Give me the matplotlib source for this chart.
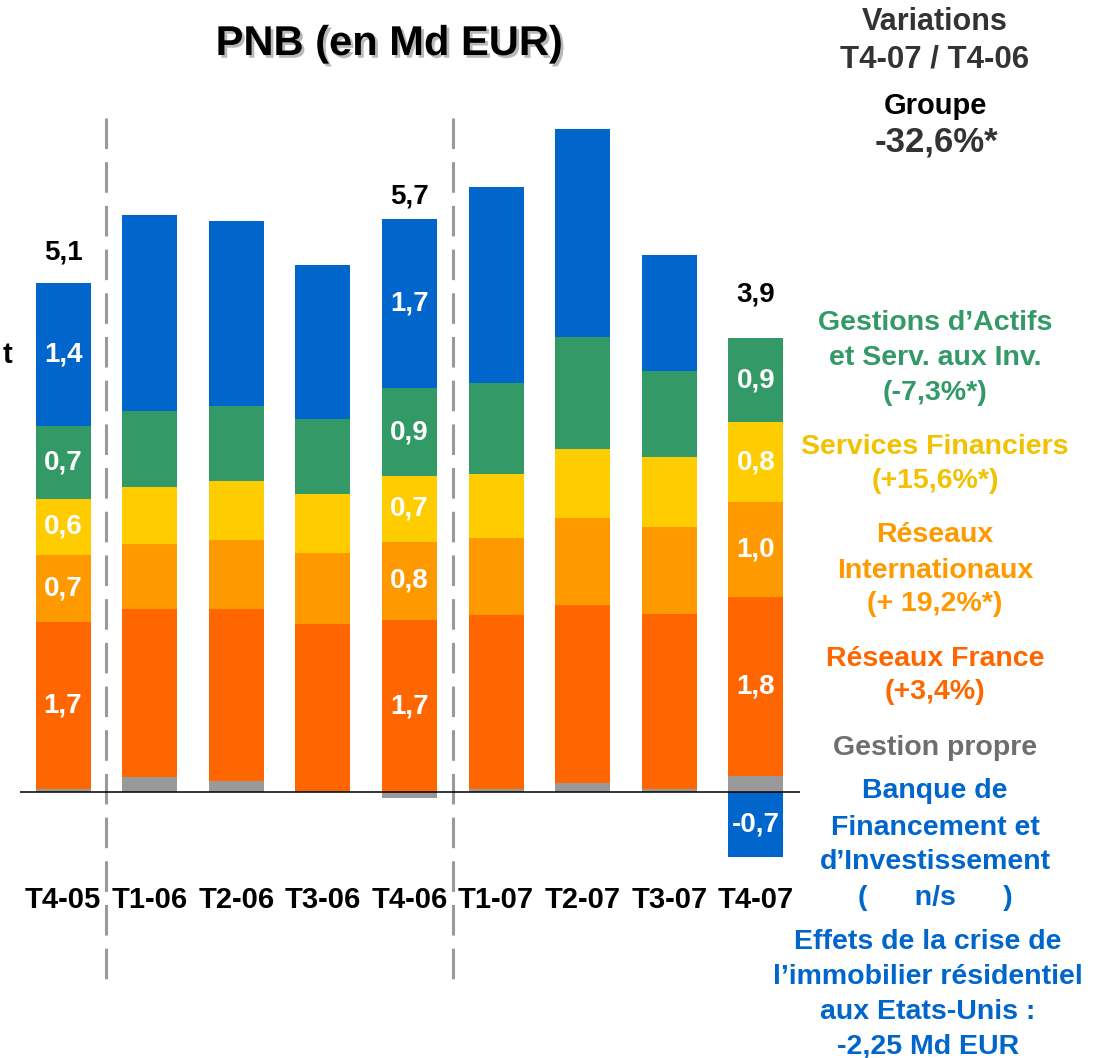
import matplotlib
matplotlib.use("Agg")
import matplotlib.pyplot as plt
import matplotlib.patheffects as pe
import numpy as np

plt.rcParams['font.family'] = ['Liberation Sans', 'DejaVu Sans']
plt.rcParams['font.weight'] = 'bold'

# ---------------- data ----------------
categories = ['T4-05', 'T1-06', 'T2-06', 'T3-06', 'T4-06', 'T1-07', 'T2-07', 'T3-07', 'T4-07']
gestion_propre = [0.03, 0.15, 0.11, 0.01, -0.06, 0.03, 0.09, 0.03, 0.16]
reseaux_france = [1.67, 1.68, 1.72, 1.67, 1.72, 1.74, 1.78, 1.75, 1.79]
reseaux_inter = [0.67, 0.65, 0.69, 0.71, 0.78, 0.77, 0.87, 0.87, 0.95]
services_fin = [0.56, 0.57, 0.59, 0.59, 0.66, 0.64, 0.69, 0.70, 0.80]
gestion_actifs = [0.73, 0.76, 0.75, 0.75, 0.88, 0.91, 1.12, 0.86, 0.84]
bfi = [1.43, 1.96, 1.85, 1.54, 1.69, 1.96, 2.08, 1.16, -0.65]

lbl_gp = [None] * 9
lbl_rf = ['1,7', None, None, None, '1,7', None, None, None, '1,8']
lbl_ri = ['0,7', None, None, None, '0,8', None, None, None, '1,0']
lbl_sf = ['0,6', None, None, None, '0,7', None, None, None, '0,8']
lbl_gas = ['0,7', None, None, None, '0,9', None, None, None, '0,9']
lbl_bfi = ['1,4', None, None, None, '1,7', None, None, None, '-0,7']
total_labels = ['5,1', None, None, None, '5,7', None, None, None, '3,9']

# ---------------- styling ----------------
W, H = 1097, 1058
fig = plt.figure(figsize=(W / 100, H / 100), dpi=100)
fig.patch.set_facecolor('white')

ax = fig.add_axes([20 / W, 0, 780 / W, 1])
ax.set_xlim(-0.497, 8.51)
ax.set_ylim(-2.66, 7.92)
ax.axis('off')

series = [
    (gestion_propre, '#999999', lbl_gp),
    (reseaux_france, '#FF6600', lbl_rf),
    (reseaux_inter, '#FF9900', lbl_ri),
    (services_fin, '#FFCC00', lbl_sf),
    (gestion_actifs, '#339966', lbl_gas),
    (bfi, '#0066CC', lbl_bfi),
]

x = np.arange(len(categories))
pos_bottom = np.zeros(len(categories))
neg_bottom = np.zeros(len(categories))
bw = 0.635
for vals, col, lbls in series:
    v = np.array(vals, dtype=float)
    bottom = np.where(v >= 0, pos_bottom, neg_bottom)
    ax.bar(x, v, bw, bottom=bottom, color=col, edgecolor='none', zorder=2)
    for i, (val, lb) in enumerate(zip(v, lbls)):
        if lb:
            ax.text(x[i], bottom[i] + val / 2, lb, ha='center', va='center',
                    color='white', fontsize=20, fontweight='bold', zorder=4)
    pos_bottom = pos_bottom + np.where(v >= 0, v, 0)
    neg_bottom = neg_bottom + np.where(v < 0, v, 0)

# totals above bars
total_offsets_px = [31, 0, 0, 0, 23, 0, 0, 0, 43]
for i, t in enumerate(total_labels):
    if t:
        ax.annotate(t, (x[i], pos_bottom[i]), xytext=(0, total_offsets_px[i] * 0.72),
                    textcoords='offset points', ha='center', va='center',
                    fontsize=20, fontweight='bold', color='black')

# baseline
ax.axhline(0, color='black', lw=1.1, zorder=3)

# dashed separators
for xs in (0.5, 4.5):
    ax.plot([xs, xs], [6.74, -1.93], color='#999999', lw=2.2,
            linestyle=(0, (10, 4.3)), zorder=1)

# category labels
for i, c in enumerate(categories):
    ax.text(x[i], -1.08, c, ha='center', va='center', fontsize=21,
            fontweight='bold', color='black')


def ft(px, py, s, **kw):
    fig.text(px / W, 1 - py / H, s, ha='center', va='center',
             fontweight='bold', **kw)


# title
ft(389, 44, 'PNB (en Md EUR)', fontsize=30, color='black',
   path_effects=[pe.withSimplePatchShadow(offset=(2, -2), shadow_rgbFace='#9a9a9a', alpha=0.7)])

# clipped letter at left edge
fig.text(12 / W, 1 - 355 / H, 't', ha='right', va='center', fontsize=21,
         fontweight='bold', color='black')

# right panel
ft(935, 22, 'Variations', fontsize=22, color='#333333')
ft(935, 60, 'T4-07 / T4-06', fontsize=22.5, color='#333333')
ft(935, 106, 'Groupe', fontsize=21, color='black')
ft(936, 142, '-32,6%*', fontsize=25, color='#333333')

green, yellow, orange, red, grey, blue = '#339966', '#F2C200', '#FF9900', '#FF6600', '#6E6E6E', '#0066CC'
rs = 20.5
ft(935, 323, 'Gestions d\u2019Actifs', fontsize=rs, color=green)
ft(935, 358, 'et Serv. aux Inv.', fontsize=rs, color=green)
ft(935, 393, '(-7,3%*)', fontsize=rs, color=green)
ft(935, 447, 'Services Financiers', fontsize=rs, color=yellow)
ft(935, 481, '(+15,6%*)', fontsize=rs, color=yellow)
ft(935, 535, 'R\u00e9seaux', fontsize=rs, color=orange)
ft(935, 571, 'Internationaux', fontsize=rs, color=orange)
ft(935, 604, '(+ 19,2%*)', fontsize=rs, color=orange)
ft(935, 659, 'R\u00e9seaux France', fontsize=rs, color=red)
ft(935, 692, '(+3,4%)', fontsize=rs, color=red)
ft(935, 748, 'Gestion propre', fontsize=rs, color=grey)
ft(935, 791, 'Banque de', fontsize=rs, color=blue)
ft(935, 828, 'Financement et', fontsize=rs, color=blue)
ft(935, 862, 'd\u2019Investissement', fontsize=rs, color=blue)
ft(935, 898, '(      n/s      )', fontsize=rs, color=blue)
ft(928, 942, 'Effets de la crise de', fontsize=rs, color=blue)
ft(928, 977, 'l\u2019immobilier r\u00e9sidentiel', fontsize=rs, color=blue)
ft(928, 1012, 'aux Etats-Unis :', fontsize=rs, color=blue)
ft(928, 1046, '-2,25 Md EUR', fontsize=rs, color=blue)

fig.savefig('out.png', dpi=100, facecolor='white')
